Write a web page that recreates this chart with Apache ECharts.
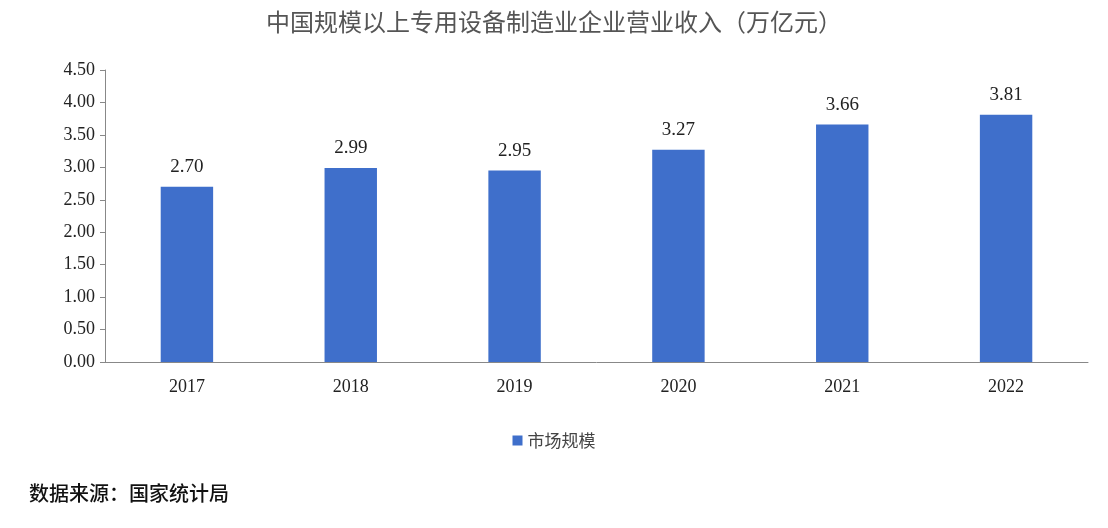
<!DOCTYPE html>
<html><head><meta charset="utf-8">
<script src="https://cdn.jsdelivr.net/npm/echarts@6/dist/echarts.min.js"></script>
<style>html,body{margin:0;background:#fff}#c{width:1108px;height:528px}</style>
</head><body><div id="c"></div>
<script>
const categories = ['2017','2018','2019','2020','2021','2022'];
const values = [2.70, 2.99, 2.95, 3.27, 3.66, 3.81];
const seriesName = '市场规模';
const titleText = '中国规模以上专用设备制造业企业营业收入（万亿元）';
const sourceText = '数据来源：国家统计局';
const serif = '"Liberation Serif","DejaVu Serif","Noto Sans CJK SC",serif';
const chart = echarts.init(document.getElementById('c'));
chart.setOption({
  animation:false,
  title:[{text:titleText,left:'center',top:5,textStyle:{fontFamily:'"Noto Sans CJK SC",serif',fontSize:24,fontWeight:'normal',color:'#555'}},
         {text:sourceText,left:24,top:478,textStyle:{fontFamily:'"Noto Sans CJK SC",sans-serif',fontSize:20,fontWeight:500,color:'#111'}}],
  legend:{top:427,left:'center',itemWidth:10,itemHeight:10,icon:'rect',textStyle:{fontFamily:'"Noto Sans CJK SC",sans-serif',fontSize:17,color:'#444'}},
  grid:{left:105,right:20,top:70,bottom:166},
  xAxis:{type:'category',data:categories,axisLine:{lineStyle:{color:'#888'}},axisTick:{show:false},
    axisLabel:{fontFamily:serif,fontSize:18,color:'#222',margin:16}},
  yAxis:{type:'value',min:0,max:4.5,interval:0.5,splitLine:{show:false},
    axisLine:{show:true,lineStyle:{color:'#888'}},axisTick:{show:true,length:5,lineStyle:{color:'#888'}},
    axisLabel:{formatter:v=>v.toFixed(2),fontFamily:serif,fontSize:18,color:'#222',margin:10}},
  series:[{name:seriesName,type:'bar',data:values,barWidth:'32%',itemStyle:{color:'#3F6FCB'},
    label:{show:true,position:'top',distance:10,formatter:p=>p.value.toFixed(2),fontFamily:serif,fontSize:19,color:'#222'}}]
});
</script></body></html>
